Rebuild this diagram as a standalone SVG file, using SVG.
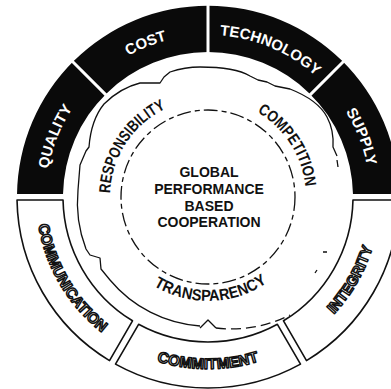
<svg xmlns="http://www.w3.org/2000/svg" width="391" height="389" viewBox="0 0 391 389">
<style>
.band{fill:#0a0a0a}
.sep{stroke:#fff;stroke-width:3}
.wband{fill:#fff;stroke:#111;stroke-width:1.6;stroke-linejoin:round}
.wtxt{font-family:"Liberation Sans",Arial,sans-serif;font-weight:bold;font-size:15px;fill:#fff}
.otxt{font-family:"Liberation Sans",Arial,sans-serif;font-weight:bold;font-size:15px;fill:#fff;stroke:#111;stroke-width:1.5;stroke-linejoin:round}
.mtxt{font-family:"Liberation Sans",Arial,sans-serif;font-weight:bold;font-size:16px;fill:#111}
.ctxt{font-family:"Liberation Sans",Arial,sans-serif;font-weight:bold;font-size:14px;fill:#111;text-anchor:middle}
.line{fill:none;stroke:#111;stroke-width:1.3;stroke-linejoin:round}
</style>
<defs>
<path id="pUp" d="M46,197 A162,162 0 0 1 370,197"/>
<path id="pLow" d="M36,197 A172,172 0 0 0 380,197"/>
<path id="pMid" d="M110,197 A98,98 0 0 1 306,197"/>
<path id="pMidLow" d="M104,197 A104,104 0 0 0 312,197"/>
</defs>
<rect width="391" height="389" fill="#fff"/>
<g id="outer-upper">
<path class="band" d="M17.02,194 A191,191 0 0 1 398.98,194 L352.97,194 A145,145 0 0 0 63.03,194 Z"/>
<line class="sep" x1="106.9" y1="95.9" x2="71.5" y2="60.5"/>
<line class="sep" x1="208" y1="54" x2="208" y2="4"/>
<line class="sep" x1="309.1" y1="95.9" x2="344.5" y2="60.5"/>
</g>
<g id="quality"><text class="wtxt" text-anchor="middle"><textPath href="#pUp" startOffset="61">QUALITY</textPath></text></g>
<g id="cost"><text class="wtxt" text-anchor="middle"><textPath href="#pUp" startOffset="192">COST</textPath></text></g>
<g id="technology"><text class="wtxt" text-anchor="middle"><textPath href="#pUp" startOffset="319">TECHNOLOGY</textPath></text></g>
<g id="supply"><text class="wtxt" text-anchor="middle"><textPath href="#pUp" startOffset="448">SUPPLY</textPath></text></g>
<g id="communication">
<path class="wband" d="M17.02,200 A191,191 0 0 0 109.5,360.6 L132.5,320.8 A145,145 0 0 1 63.03,200 Z"/>
<text class="otxt" text-anchor="middle"><textPath href="#pLow" startOffset="92" textLength="128" lengthAdjust="spacingAndGlyphs">COMMUNICATION</textPath></text>
</g>
<g id="commitment">
<path class="wband" d="M115.5,364.1 A191,191 0 0 0 300.5,364.1 L277.4,324.3 A145,145 0 0 1 138.6,324.3 Z"/>
<text class="otxt" text-anchor="middle"><textPath href="#pLow" startOffset="270" textLength="104" lengthAdjust="spacingAndGlyphs">COMMITMENT</textPath></text>
</g>
<g id="integrity">
<path class="wband" d="M306.5,360.6 A191,191 0 0 0 398.98,200 L352.97,200 A145,145 0 0 1 283.5,320.8 Z"/>
<text class="otxt" text-anchor="middle"><textPath href="#pLow" startOffset="450" textLength="78" lengthAdjust="spacingAndGlyphs">INTEGRITY</textPath></text>
</g>
<g id="connectors">
<path class="line" d="M200,326 A129,129 0 0 1 110,280 L101,269 L100,258 L90,255 L86,249 A130,130 0 0 1 78,190 L80,165 L86,151 L89,147 Q91,120 104,104 Q120,88 140,83 L160,83 L164,77 L170,72 Q185,67 200,67 Q235,67 250,76 L258,80 L267,82 L275,86 L290,89 Q318,100 327,117 Q334,130 333,147 L337,156"/>
<path class="line" d="M337,160 L338,167"/>
<path class="line" d="M327,252 L323,252 M317,270 L315,273"/>
<path class="line" stroke-dasharray="10 5" d="M216,328 A131,131 0 0 0 290,315"/>
<path class="line" d="M200,328 L208,320 L216,328"/>
<circle class="line" cx="208" cy="197" r="87" stroke-dasharray="14 4 5 4"/>
</g>
<g id="ring-text">
<text class="mtxt" text-anchor="middle"><textPath href="#pMid" startOffset="57" textLength="106" lengthAdjust="spacingAndGlyphs">RESPONSIBILITY</textPath></text>
<text class="mtxt" text-anchor="middle"><textPath href="#pMid" startOffset="251" textLength="92" lengthAdjust="spacingAndGlyphs">COMPETITION</textPath></text>
<text class="mtxt" text-anchor="middle"><textPath href="#pMidLow" startOffset="166" textLength="120" lengthAdjust="spacingAndGlyphs">TRANSPARENCY</textPath></text>
</g>
<g id="center">
<text class="ctxt" x="209" y="177">GLOBAL</text>
<text class="ctxt" x="209" y="194">PERFORMANCE</text>
<text class="ctxt" x="209" y="210.5">BASED</text>
<text class="ctxt" x="209" y="227">COOPERATION</text>
</g>
</svg>
